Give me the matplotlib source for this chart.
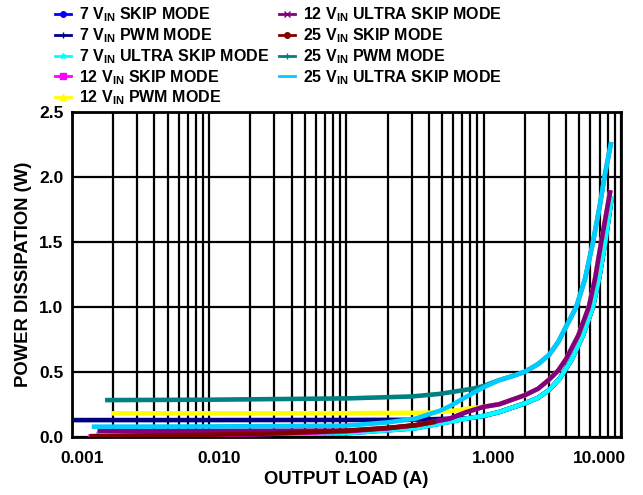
import matplotlib
matplotlib.use("Agg")
import matplotlib.pyplot as plt
from matplotlib.lines import Line2D
import matplotlib.transforms as mtransforms

plt.rcParams['font.family'] = ['Liberation Sans', 'DejaVu Sans']
plt.rcParams['font.weight'] = 'bold'
plt.rcParams['mathtext.fontset'] = 'custom'
plt.rcParams['mathtext.rm'] = 'Liberation Sans:bold'
plt.rcParams['mathtext.it'] = 'Liberation Sans:bold'
plt.rcParams['mathtext.bf'] = 'Liberation Sans:bold'

# values (load in A, power in W)
load_7_skip = [0.00152, 0.01, 0.1, 0.32, 0.57, 0.75, 1.0, 1.3, 2.0, 2.5, 3.0, 3.6, 4.36, 5.3, 6.27, 7.0, 7.7, 8.6]
pwr_7_skip = [0.02, 0.022, 0.026, 0.065, 0.115, 0.14, 0.16, 0.19, 0.257, 0.3, 0.36, 0.45, 0.59, 0.78, 1.0, 1.24, 1.5, 1.85]

load_7_pwm = [0.00103, 0.01, 0.1, 0.3, 0.5, 0.75, 1.0, 1.3, 2.0, 2.5, 3.0, 3.6, 4.36, 5.3, 6.27, 7.0, 7.7, 8.6]
pwr_7_pwm = [0.128, 0.128, 0.129, 0.13, 0.137, 0.14, 0.16, 0.19, 0.257, 0.3, 0.36, 0.45, 0.59, 0.78, 1.0, 1.24, 1.5, 1.85]

load_7_ultra = [0.00152, 0.01, 0.1, 0.32, 0.57, 0.75, 1.0, 1.3, 2.0, 2.5, 3.0, 3.6, 4.36, 5.3, 6.27, 7.0, 7.7, 8.6]
pwr_7_ultra = [0.02, 0.022, 0.026, 0.065, 0.115, 0.14, 0.16, 0.19, 0.257, 0.3, 0.36, 0.45, 0.59, 0.78, 1.0, 1.24, 1.5, 1.85]

load_12_skip = [0.00132, 0.003, 0.01, 0.03, 0.1, 0.2, 0.32, 0.57, 0.75, 1.0, 1.3, 2.0, 2.5, 3.0, 3.5, 4.0, 4.9, 5.85, 6.5, 7.2, 8.4]
pwr_12_skip = [0.0, 0.006, 0.012, 0.022, 0.04, 0.065, 0.088, 0.14, 0.19, 0.23, 0.25, 0.32, 0.37, 0.44, 0.51, 0.6, 0.78, 1.0, 1.22, 1.5, 1.9]

load_12_pwm = [0.00195, 0.01, 0.1, 0.4, 0.48, 0.6, 0.75, 1.0, 1.3, 2.0, 2.5, 3.0, 3.5, 4.0, 4.9, 5.85, 6.5, 7.2, 8.4]
pwr_12_pwm = [0.18, 0.18, 0.181, 0.185, 0.19, 0.2, 0.215, 0.23, 0.25, 0.32, 0.37, 0.44, 0.51, 0.6, 0.78, 1.0, 1.22, 1.5, 1.9]

load_12_ultra = [0.00154, 0.01, 0.1, 0.2, 0.32, 0.57, 0.75, 1.0, 1.3, 2.0, 2.5, 3.0, 3.5, 4.0, 4.9, 5.85, 6.5, 7.2, 8.4]
pwr_12_ultra = [0.045, 0.045, 0.047, 0.065, 0.09, 0.14, 0.19, 0.23, 0.25, 0.32, 0.37, 0.44, 0.51, 0.6, 0.78, 1.0, 1.22, 1.5, 1.9]

load_25_skip = [0.00135, 0.003, 0.01, 0.03, 0.1, 0.2, 0.32, 0.45]
pwr_25_skip = [0.004, 0.009, 0.015, 0.025, 0.045, 0.068, 0.088, 0.115]

load_25_pwm = [0.00175, 0.01, 0.1, 0.3, 0.48, 0.836, 1.0, 1.3, 1.6, 2.0, 2.5, 3.0, 3.5, 4.0, 4.74, 5.5, 6.27, 7.0, 7.6, 8.5]
pwr_25_pwm = [0.282, 0.285, 0.295, 0.31, 0.33, 0.37, 0.39, 0.436, 0.465, 0.5, 0.56, 0.63, 0.73, 0.85, 1.0, 1.22, 1.5, 1.77, 2.0, 2.27]

load_25_ultra = [0.0014, 0.01, 0.1, 0.2, 0.32, 0.48, 0.57, 0.7, 0.885, 1.0, 1.3, 1.6, 2.0, 2.5, 3.0, 3.5, 4.0, 4.74, 5.5, 6.27, 7.0, 7.6, 8.5]
pwr_25_ultra = [0.077, 0.079, 0.085, 0.11, 0.14, 0.2, 0.236, 0.29, 0.35, 0.38, 0.436, 0.465, 0.5, 0.56, 0.63, 0.73, 0.85, 1.0, 1.22, 1.5, 1.77, 2.0, 2.27]

series = [
    ("7 V$_{IN}$ SKIP MODE", load_7_skip, pwr_7_skip, "#0000ff", "o"),
    ("7 V$_{IN}$ PWM MODE", load_7_pwm, pwr_7_pwm, "#000080", "+"),
    ("7 V$_{IN}$ ULTRA SKIP MODE", load_7_ultra, pwr_7_ultra, "#00ffff", "*"),
    ("12 V$_{IN}$ SKIP MODE", load_12_skip, pwr_12_skip, "#ff00ff", "s"),
    ("12 V$_{IN}$ PWM MODE", load_12_pwm, pwr_12_pwm, "#ffff00", "^"),
    ("12 V$_{IN}$ ULTRA SKIP MODE", load_12_ultra, pwr_12_ultra, "#800080", "x"),
    ("25 V$_{IN}$ SKIP MODE", load_25_skip, pwr_25_skip, "#800000", "o"),
    ("25 V$_{IN}$ PWM MODE", load_25_pwm, pwr_25_pwm, "#008080", "+"),
    ("25 V$_{IN}$ ULTRA SKIP MODE", load_25_ultra, pwr_25_ultra, "#00ccff", "_"),
]

fig = plt.figure(figsize=(6.43, 4.95), dpi=100)
ax = fig.add_axes([0.1115, 0.1178, 0.854, 0.6553])

handles = []
for label, x, y, col, mk in series:
    ax.plot(x, y, color=col, lw=3.3, solid_capstyle='butt', solid_joinstyle='round', zorder=3)
    handles.append(Line2D([], [], color=col, lw=2, marker=mk, markersize=4,
                          markerfacecolor=col, label=label))

ax.set_xscale('log')
ax.set_xlim(0.001, 10)
ax.set_ylim(0, 2.5)
ax.set_xticks([0.001, 0.01, 0.1, 1, 10])
ax.set_xticklabels(['0.001', '0.010', '0.100', '1.000', '10.000'])
ax.set_yticks([0, 0.5, 1.0, 1.5, 2.0, 2.5])
ax.set_yticklabels(['0.0', '0.5', '1.0', '1.5', '2.0', '2.5'])
ax.tick_params(which='both', length=0, labelsize=12.5)
ax.tick_params(axis='x', pad=10)
ax.tick_params(axis='y', pad=6)
ax.grid(which='both', axis='x', color='black', lw=1.6)
ax.grid(which='major', axis='y', color='black', lw=1.6)
for s in ax.spines.values():
    s.set_linewidth(2)

# tick labels sit a little right of their gridline, the last one pulled left
offset = mtransforms.ScaledTranslation(0.10, 0, fig.dpi_scale_trans)
for lab in ax.get_xticklabels()[:-1]:
    lab.set_transform(lab.get_transform() + offset)
last_offset = mtransforms.ScaledTranslation(-0.21, 0, fig.dpi_scale_trans)
last = ax.get_xticklabels()[-1]
last.set_transform(last.get_transform() + last_offset)

ax.set_xlabel("OUTPUT LOAD (A)", fontsize=13.3, fontweight='bold', labelpad=4)
ax.set_ylabel("POWER DISSIPATION (W)", fontsize=13.3, fontweight='bold', labelpad=5)

fig.legend(handles=handles, ncol=2, loc='upper left', bbox_to_anchor=(0.07, 1.008),
           frameon=False, prop={'weight': 'bold', 'size': 11.5}, handlelength=1.0,
           handletextpad=0.5, columnspacing=0.65, labelspacing=0.13, borderpad=0.1)

fig.savefig("out.png", dpi=100)
